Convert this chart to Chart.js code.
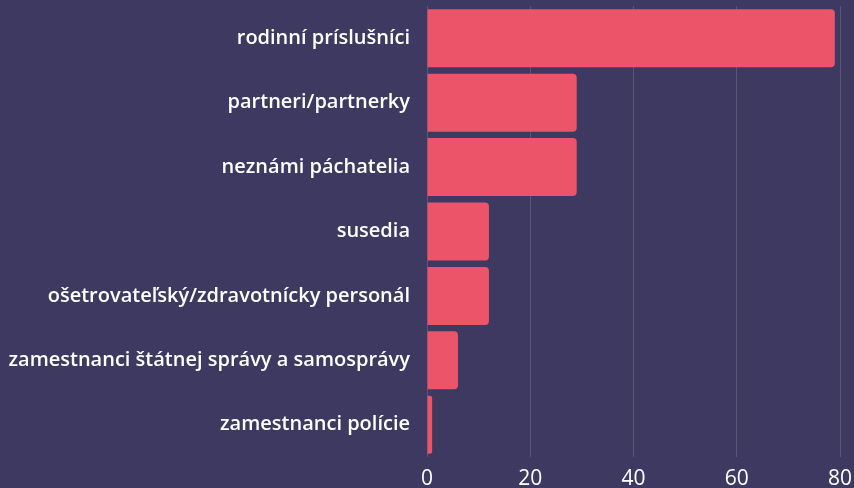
<!DOCTYPE html>
<html><head><meta charset="utf-8">
<script src="https://cdn.jsdelivr.net/npm/chart.js@4"></script>
<style>html,body{margin:0;padding:0;background:#3e3960;}#wrap{width:854px;height:488px;}</style>
</head><body><div id="wrap"><canvas id="c" width="854" height="488"></canvas></div>
<script>
const categories = ["rodinní príslušníci","partneri/partnerky","neznámi páchatelia","susedia","ošetrovateľský/zdravotnícky personál","zamestnanci štátnej správy a samosprávy","zamestnanci polície"];
const values = [79, 29, 29, 12, 12, 6, 1];
const xTicks = [0, 20, 40, 60, 80];

new Chart(document.getElementById('c'), {
  type: 'bar',
  data: { labels: categories, datasets: [{ data: values, backgroundColor: '#eb5469', borderRadius: 4, categoryPercentage: 1, barPercentage: 0.9 }] },
  options: {
    indexAxis: 'y', responsive: false, animation: false,
    layout: { padding: { top: 6, right: 14, left: 0, bottom: 0 } },
    plugins: { legend: { display: false }, tooltip: { enabled: false } },
    scales: {
      x: { min: 0, max: 80, afterBuildTicks: s => { s.ticks = xTicks.map(v => ({value: v})); },
           afterFit: s => { s.paddingLeft = 0; s.paddingRight = 0; s.height = 31; },
           grid: { color: 'rgba(255,255,255,0.15)', drawTicks: false }, border: { display: false },
           ticks: { color: '#ffffff', font: { family: 'Open Sans', size: 21 }, padding: 9 } },
      y: { afterFit: s => { s.width = 427; s.paddingTop = 0; s.paddingBottom = 0; },
           grid: { display: false, drawTicks: false }, border: { display: false },
           ticks: { color: '#ffffff', font: { family: 'Open Sans', size: 20, weight: 600 }, padding: 17 } }
    }
  }
});
</script></body></html>
